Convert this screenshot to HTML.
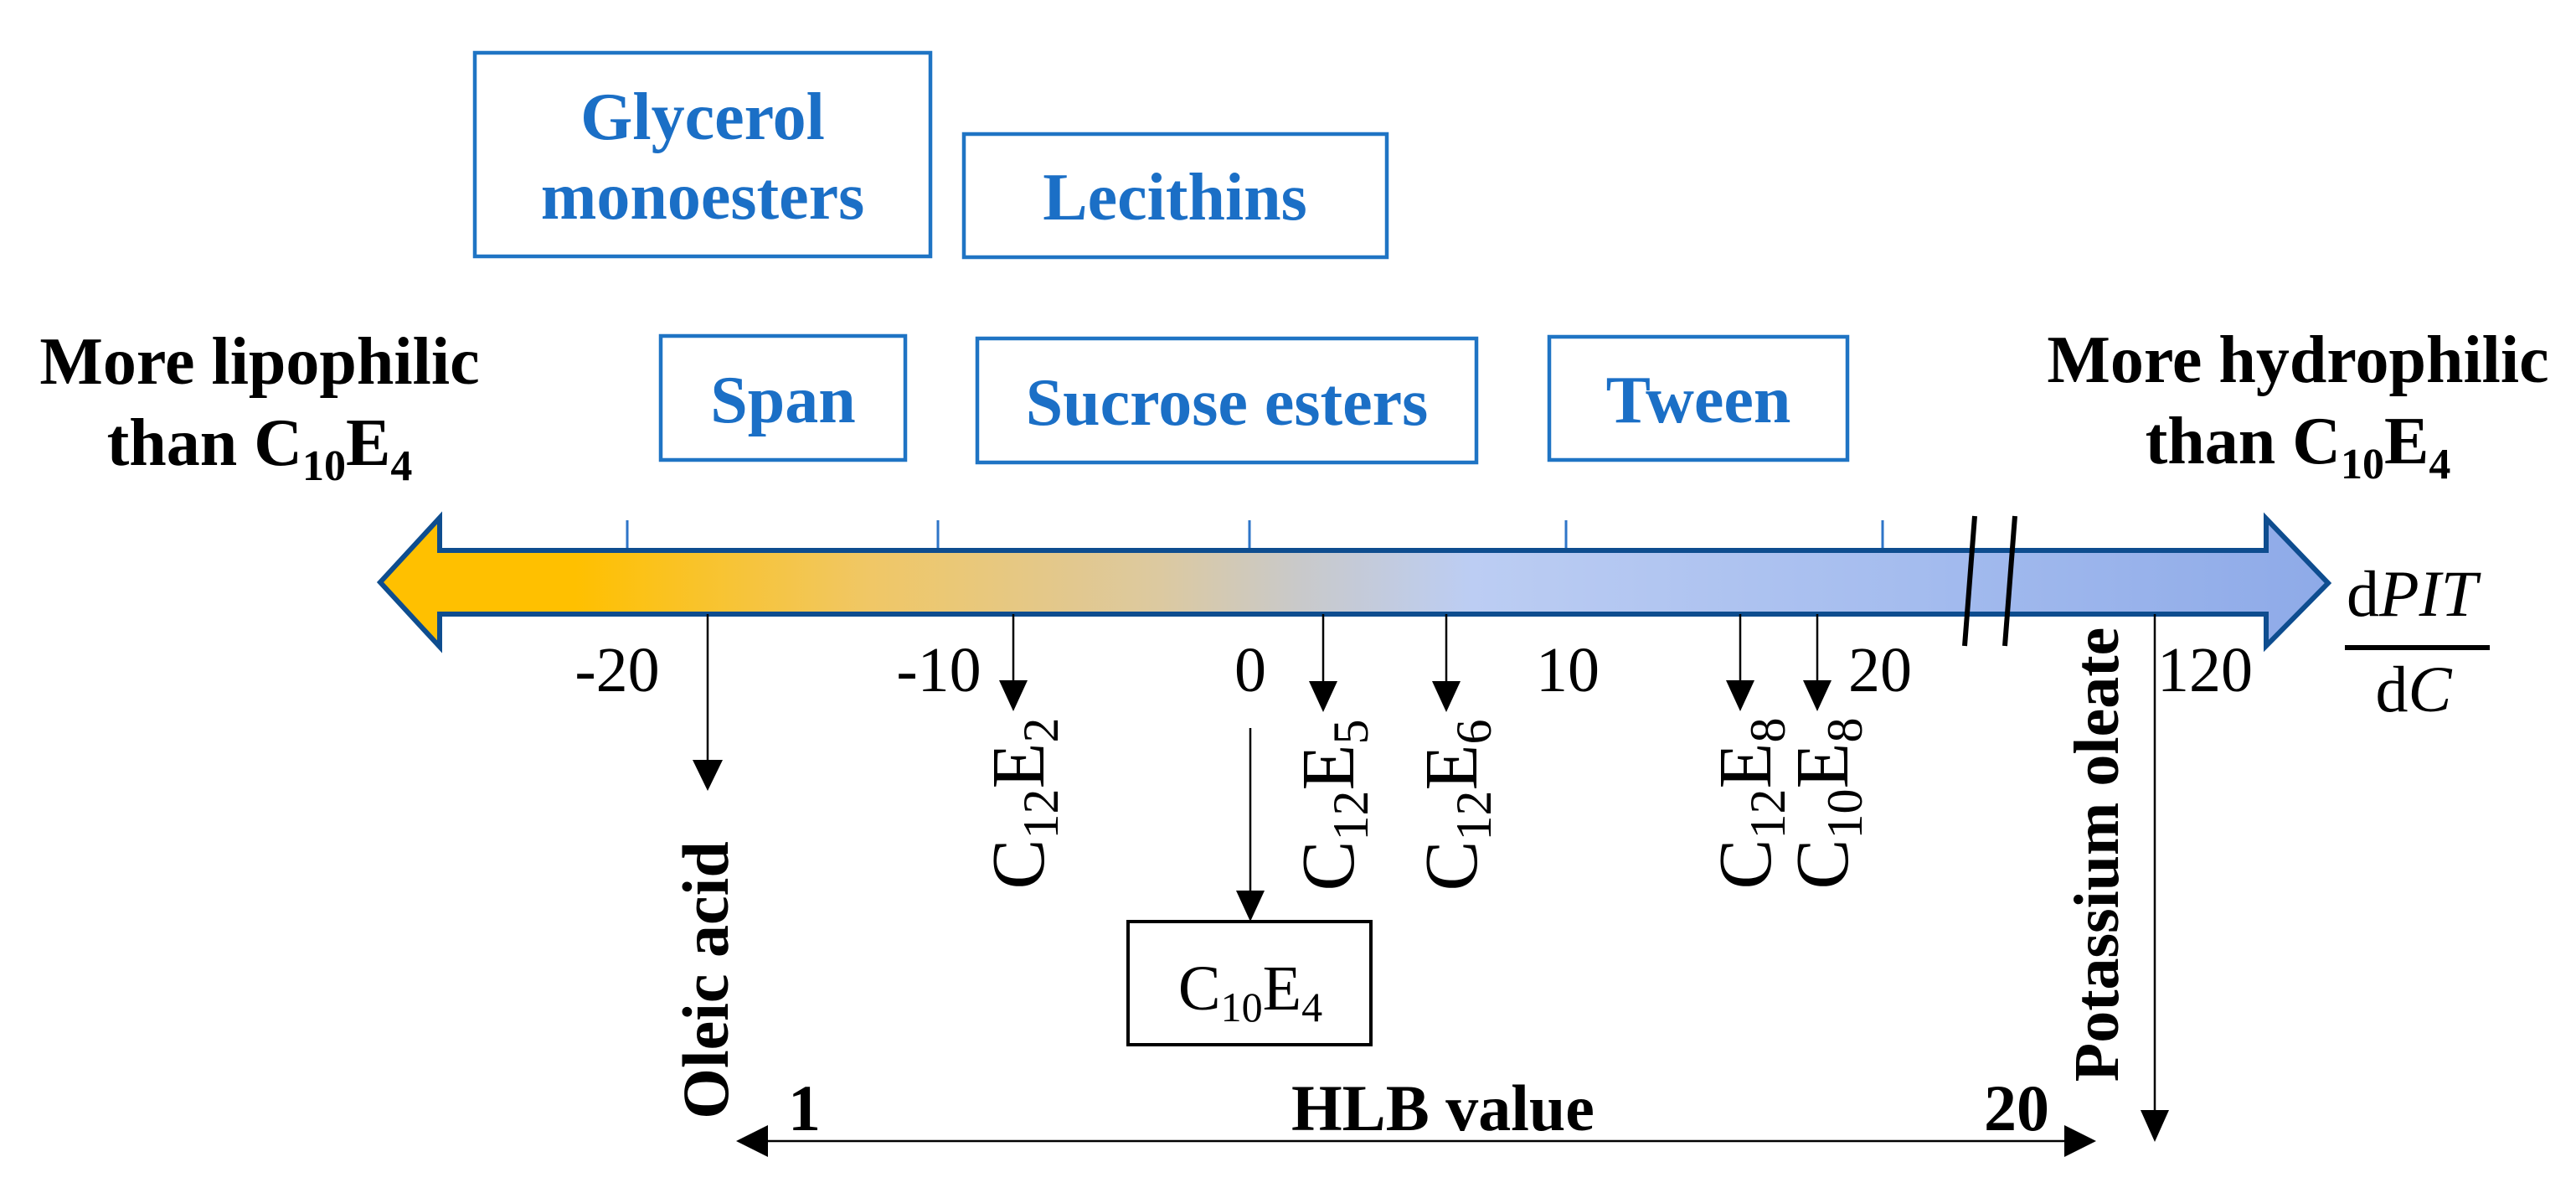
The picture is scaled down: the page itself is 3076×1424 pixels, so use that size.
<!DOCTYPE html>
<html><head><meta charset="utf-8"><style>
html,body{margin:0;padding:0;background:#fff;}
svg{display:block;}
text{font-family:"Liberation Serif",serif;}
.bt{font-weight:bold;fill:#1b6fc6;font-size:80px;text-anchor:middle;}
.bk{font-weight:bold;fill:#000;font-size:80px;text-anchor:middle;}
.num{font-size:76px;fill:#000;text-anchor:middle;}
.box{fill:none;stroke:#1f74c4;stroke-width:4.5;}
.ln{stroke:#000;stroke-width:2.5;}
</style></head><body>
<svg width="3076" height="1424" viewBox="0 0 3076 1424" xmlns="http://www.w3.org/2000/svg">
<defs>
<linearGradient id="g" gradientUnits="userSpaceOnUse" x1="454" y1="0" x2="2780" y2="0">
<stop offset="0" stop-color="#ffc000"/>
<stop offset="0.1" stop-color="#ffc000"/>
<stop offset="0.25" stop-color="#f0c765"/>
<stop offset="0.4" stop-color="#dcc9a0"/>
<stop offset="0.47" stop-color="#c9c9c9"/>
<stop offset="0.56" stop-color="#bccdf3"/>
<stop offset="0.8" stop-color="#a3bbee"/>
<stop offset="1" stop-color="#8eaae8"/>
</linearGradient>
</defs>

<rect class="box" x="567" y="63" width="544" height="243"/>
<text class="bt" x="839" y="166">Glycerol</text>
<text class="bt" x="839" y="261">monoesters</text>
<rect class="box" x="1151" y="160" width="505" height="147"/>
<text class="bt" x="1403" y="262">Lecithins</text>
<rect class="box" x="789" y="401" width="292" height="148"/>
<text class="bt" x="935" y="504">Span</text>
<rect class="box" x="1167" y="404" width="596" height="148"/>
<text class="bt" x="1465" y="507">Sucrose esters</text>
<rect class="box" x="1850" y="402" width="356" height="147"/>
<text class="bt" x="2028" y="504">Tween</text>

<text class="bk" x="310" y="458">More lipophilic</text>
<text class="bk" x="310" y="555">than C<tspan font-size="52" dy="18">10</tspan><tspan dy="-18">E</tspan><tspan font-size="52" dy="18">4</tspan></text>
<text class="bk" x="2744" y="456">More hydrophilic</text>
<text class="bk" x="2744" y="553">than C<tspan font-size="52" dy="18">10</tspan><tspan dy="-18">E</tspan><tspan font-size="52" dy="18">4</tspan></text>

<g stroke="#2e75c8" stroke-width="3">
<line x1="749" y1="621" x2="749" y2="658"/>
<line x1="1120" y1="621" x2="1120" y2="658"/>
<line x1="1492" y1="621" x2="1492" y2="658"/>
<line x1="1870" y1="621" x2="1870" y2="658"/>
<line x1="2248" y1="621" x2="2248" y2="658"/>
</g>

<polygon points="454,695 525,618 525,657 2706,657 2706,619 2780,696 2706,771 2706,733 525,733 525,772" fill="url(#g)" stroke="#0e4d8f" stroke-width="6" stroke-linejoin="miter"/>
<line x1="2358" y1="616" x2="2346" y2="771" stroke="#000" stroke-width="6"/>
<line x1="2406" y1="616" x2="2394" y2="771" stroke="#000" stroke-width="6"/>

<text class="num" x="737" y="825">-20</text>
<text class="num" x="1121" y="825">-10</text>
<text class="num" x="1493" y="825">0</text>
<text class="num" x="1872" y="825">10</text>
<text class="num" x="2245" y="825">20</text>
<text class="num" x="2633" y="825">120</text>

<text x="2802" y="735" font-size="78">d<tspan font-style="italic">PIT</tspan></text>
<rect x="2800" y="770" width="173" height="6" fill="#000"/>
<text x="2882" y="849" font-size="78" text-anchor="middle">d<tspan font-style="italic">C</tspan></text>

<g fill="#000">
<line class="ln" x1="845" y1="733" x2="845" y2="910"/><polygon points="827,907 863,907 845,944"/>
<line class="ln" x1="1210" y1="733" x2="1210" y2="815"/><polygon points="1193,812 1227,812 1210,849"/>
<line class="ln" x1="1580" y1="733" x2="1580" y2="815"/><polygon points="1563,813 1597,813 1580,850"/>
<line class="ln" x1="1727" y1="733" x2="1727" y2="815"/><polygon points="1710,813 1744,813 1727,850"/>
<line class="ln" x1="2078" y1="733" x2="2078" y2="815"/><polygon points="2061,812 2095,812 2078,849"/>
<line class="ln" x1="2170" y1="733" x2="2170" y2="815"/><polygon points="2153,812 2187,812 2170,849"/>
<line class="ln" x1="1493" y1="869" x2="1493" y2="1066"/><polygon points="1476,1063 1510,1063 1493,1100"/>
<line class="ln" x1="2573" y1="733" x2="2573" y2="1328"/><polygon points="2556,1325 2590,1325 2573,1363"/>
<line class="ln" x1="910" y1="1362" x2="2470" y2="1362"/>
<polygon points="879,1362 917,1343 917,1381"/>
<polygon points="2503,1362 2465,1343 2465,1381"/>
</g>

<g font-size="90" text-anchor="middle">
<text transform="translate(1246,959) rotate(-90)">C<tspan font-size="60" dy="17">12</tspan><tspan dy="-17">E</tspan><tspan font-size="60" dy="17">2</tspan></text>
<text transform="translate(1616,961) rotate(-90)">C<tspan font-size="60" dy="17">12</tspan><tspan dy="-17">E</tspan><tspan font-size="60" dy="17">5</tspan></text>
<text transform="translate(1763,961) rotate(-90)">C<tspan font-size="60" dy="17">12</tspan><tspan dy="-17">E</tspan><tspan font-size="60" dy="17">6</tspan></text>
<text transform="translate(2114,959) rotate(-90)">C<tspan font-size="60" dy="17">12</tspan><tspan dy="-17">E</tspan><tspan font-size="60" dy="17">8</tspan></text>
<text transform="translate(2206,959) rotate(-90)">C<tspan font-size="60" dy="17">10</tspan><tspan dy="-17">E</tspan><tspan font-size="60" dy="17">8</tspan></text>
</g>
<text transform="translate(869,1170) rotate(-90)" font-size="78" font-weight="bold" text-anchor="middle">Oleic acid</text>
<text transform="translate(2529,1020) rotate(-90)" font-size="76" font-weight="bold" text-anchor="middle">Potassium oleate</text>

<rect x="1347" y="1100" width="290" height="147" fill="none" stroke="#000" stroke-width="4"/>
<text x="1493" y="1205" font-size="76" text-anchor="middle">C<tspan font-size="50" dy="14">10</tspan><tspan dy="-14">E</tspan><tspan font-size="50" dy="14">4</tspan></text>

<text x="941" y="1349" font-size="78" font-weight="bold">1</text>
<text x="1542" y="1349" font-size="78" font-weight="bold">HLB value</text>
<text x="2369" y="1349" font-size="78" font-weight="bold">20</text>
</svg>
</body></html>
